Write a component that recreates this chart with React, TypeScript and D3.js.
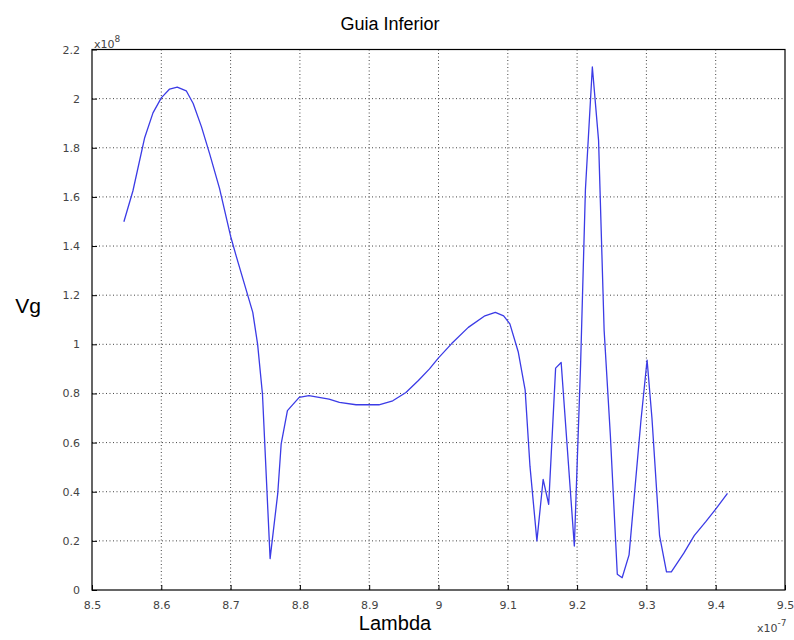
import * as d3 from "d3";
import { useRef, useEffect } from "react";

// wavelength (x1e-7 m)
const lambda = [
  8.546, 8.559, 8.576, 8.588, 8.6, 8.612, 8.623, 8.636, 8.646, 8.658, 8.67, 8.684,
  8.7, 8.708, 8.72, 8.732, 8.739, 8.746, 8.757, 8.768, 8.773, 8.782, 8.799, 8.813,
  8.842, 8.857, 8.881, 8.914, 8.934, 8.953, 8.971, 8.987, 9.0, 9.019, 9.043, 9.067,
  9.082, 9.094, 9.103, 9.115, 9.125, 9.132, 9.142, 9.151, 9.159, 9.169, 9.177, 9.196,
  9.205, 9.212, 9.222, 9.231, 9.239, 9.248, 9.258, 9.265, 9.275, 9.292, 9.301, 9.308,
  9.319, 9.329, 9.336, 9.354, 9.369, 9.386, 9.4, 9.417,
];

// group velocity (x1e8)
const vg = [
  1.499, 1.624, 1.841, 1.942, 2.003, 2.039, 2.047, 2.032, 1.98, 1.885, 1.773, 1.635,
  1.44, 1.36, 1.245, 1.13, 1.0, 0.797, 0.128, 0.392, 0.595, 0.73, 0.784, 0.791,
  0.777, 0.764, 0.754, 0.754, 0.77, 0.804, 0.853, 0.9, 0.945, 1.003, 1.069, 1.116,
  1.13, 1.116, 1.083, 0.97, 0.815, 0.504, 0.2, 0.45, 0.349, 0.903, 0.926, 0.179,
  0.914, 1.629, 2.129, 1.829, 1.057, 0.629, 0.064, 0.05, 0.143, 0.686, 0.936, 0.7,
  0.221, 0.074, 0.074, 0.15, 0.221, 0.279, 0.329, 0.393,
];

const xTicks = [8.5, 8.6, 8.7, 8.8, 8.9, 9, 9.1, 9.2, 9.3, 9.4, 9.5];
const yTicks = [0, 0.2, 0.4, 0.6, 0.8, 1, 1.2, 1.4, 1.6, 1.8, 2, 2.2];

const App = () => {
  const svgRef = useRef<SVGSVGElement | null>(null);

  useEffect(() => {
    const margin = { left: 92, right: 9, top: 49.5, bottom: 50 };
    const totalWidth = 794;
    const totalHeight = 640;
    const width = totalWidth - margin.left - margin.right;
    const height = totalHeight - margin.top - margin.bottom;

    const root = d3.select(svgRef.current);
    root.selectAll("*").remove();

    const svg = root
      .append("g")
      .attr("transform", `translate(${margin.left},${margin.top})`);

    const xScale = d3.scaleLinear().domain([8.5, 9.5]).range([0, width]);
    const yScale = d3.scaleLinear().domain([0, 2.2]).range([height, 0]);

    // dotted grid
    svg.append("g")
      .selectAll("line")
      .data(xTicks.slice(1, -1))
      .join("line")
      .attr("x1", d => xScale(d))
      .attr("x2", d => xScale(d))
      .attr("y1", 0)
      .attr("y2", height)
      .attr("stroke", "#444")
      .attr("stroke-width", 1)
      .attr("stroke-dasharray", "1 2.5");

    svg.append("g")
      .selectAll("line")
      .data(yTicks.slice(1, -1))
      .join("line")
      .attr("x1", 0)
      .attr("x2", width)
      .attr("y1", d => yScale(d))
      .attr("y2", d => yScale(d))
      .attr("stroke", "#444")
      .attr("stroke-width", 1)
      .attr("stroke-dasharray", "1 2.5");

    // axes (ticks inside, labels outside)
    const xAxis = svg.append("g")
      .attr("transform", `translate(0, ${height})`)
      .call(d3.axisBottom(xScale).tickValues(xTicks).tickSize(-5).tickPadding(11).tickFormat(d3.format("")));
    const yAxis = svg.append("g")
      .call(d3.axisLeft(yScale).tickValues(yTicks).tickSize(-5).tickPadding(12).tickFormat(d3.format("")));

    [xAxis, yAxis].forEach(ax => {
      ax.select(".domain").remove();
      ax.selectAll("line").attr("stroke", "#000");
      ax.selectAll("text")
        .attr("fill", "#444")
        .style("font-family", "DejaVu Sans, sans-serif")
        .style("font-size", "11px");
    });

    // frame
    svg.append("rect")
      .attr("width", width)
      .attr("height", height)
      .attr("fill", "none")
      .attr("stroke", "#000")
      .attr("stroke-width", 1.2);

    const line = d3.line<number>()
      .x((_, i) => xScale(lambda[i]))
      .y(d => yScale(d));

    svg.append("path")
      .datum(vg)
      .attr("fill", "none")
      .attr("stroke", "#3b3be6")
      .attr("stroke-width", 1.3)
      .attr("stroke-linejoin", "round")
      .attr("d", line);

    // exponent labels
    const e1 = svg.append("text")
      .attr("x", 2)
      .attr("y", -2)
      .attr("fill", "#444")
      .style("font-family", "DejaVu Sans, sans-serif")
      .style("font-size", "11px");
    e1.append("tspan").text("x10");
    e1.append("tspan").attr("dy", -6).style("font-size", "9px").text("8");

    const e2 = svg.append("text")
      .attr("x", width - 28)
      .attr("y", height + 42)
      .attr("fill", "#444")
      .style("font-family", "DejaVu Sans, sans-serif")
      .style("font-size", "11px");
    e2.append("tspan").text("x10");
    e2.append("tspan").attr("dy", -6).style("font-size", "9px").text("-7");

    // titles
    root.append("text")
      .attr("x", 390)
      .attr("y", 30)
      .attr("text-anchor", "middle")
      .style("font-family", "Liberation Sans, Arial, sans-serif")
      .style("font-size", "18px")
      .text("Guia Inferior");

    root.append("text")
      .attr("x", 28)
      .attr("y", 313)
      .attr("text-anchor", "middle")
      .style("font-family", "Liberation Sans, Arial, sans-serif")
      .style("font-size", "21px")
      .text("Vg");

    root.append("text")
      .attr("x", 395)
      .attr("y", 630)
      .attr("text-anchor", "middle")
      .style("font-family", "Liberation Sans, Arial, sans-serif")
      .style("font-size", "20px")
      .text("Lambda");
  }, []);

  return (
    <svg
      ref={svgRef}
      width={794}
      height={640}
      style={{ position: "absolute", left: 0, top: 0, background: "#fff" }}
    />
  );
};

export default App;
